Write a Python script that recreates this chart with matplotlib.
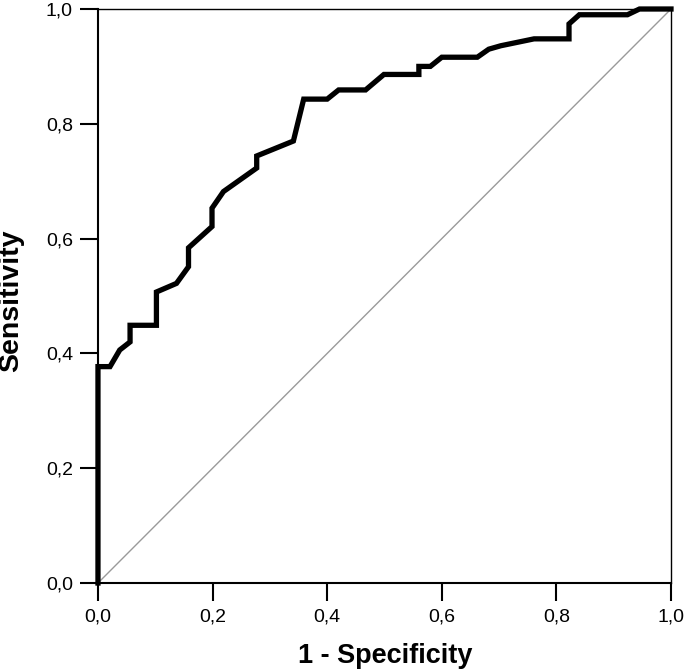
import matplotlib
matplotlib.use("Agg")
import matplotlib.pyplot as plt

plt.rcParams['font.family'] = ['Liberation Sans', 'DejaVu Sans']

# ROC curve points (1 - specificity, sensitivity)
fpr = [0.0, 0.0, 0.021, 0.038, 0.056, 0.056, 0.102, 0.102, 0.137, 0.158,
       0.158, 0.199, 0.199, 0.219, 0.277, 0.277, 0.341, 0.359, 0.40, 0.42,
       0.467, 0.499, 0.56, 0.56, 0.58, 0.60, 0.662, 0.682, 0.703, 0.761,
       0.822, 0.822, 0.84, 0.924, 0.945, 1.0]
tpr = [0.0, 0.377, 0.377, 0.406, 0.42, 0.449, 0.449, 0.507, 0.522, 0.551,
       0.584, 0.621, 0.653, 0.682, 0.723, 0.744, 0.770, 0.843, 0.843, 0.859,
       0.859, 0.886, 0.886, 0.90, 0.90, 0.916, 0.916, 0.93, 0.936, 0.948,
       0.948, 0.974, 0.99, 0.99, 1.0, 1.0]

ticks = [0.0, 0.2, 0.4, 0.6, 0.8, 1.0]
tick_labels = ['0,0', '0,2', '0,4', '0,6', '0,8', '1,0']

fig = plt.figure(figsize=(6.88, 6.72), dpi=100)
ax = fig.add_axes([0.1424, 0.1324, 0.8329, 0.8542])

ax.plot([0, 1], [0, 1], color='#9a9a9a', lw=1.0, zorder=2)
ax.plot(fpr, tpr, color='black', lw=3.8, solid_joinstyle='miter',
        clip_on=False, zorder=3)

ax.set_xlim(0, 1)
ax.set_ylim(0, 1)
ax.set_xticks(ticks)
ax.set_xticklabels(tick_labels)
ax.set_yticks(ticks)
ax.set_yticklabels(tick_labels)
ax.tick_params(direction='out', length=13, width=1.5, labelsize=14,
               colors='black')
ax.tick_params(axis='x', pad=5)
ax.tick_params(axis='y', pad=5)

for side in ['left', 'bottom']:
    ax.spines[side].set_linewidth(1.5)
for side in ['top', 'right']:
    ax.spines[side].set_linewidth(1.0)

ax.set_xlabel('1 - Specificity', fontsize=19.5, fontweight='bold')
ax.set_ylabel('Sensitivity', fontsize=20.5, fontweight='bold')
ax.xaxis.set_label_coords(0.502, -0.104)
ax.yaxis.set_label_coords(-0.128, 0.492)

fig.savefig('out.png', dpi=100)
